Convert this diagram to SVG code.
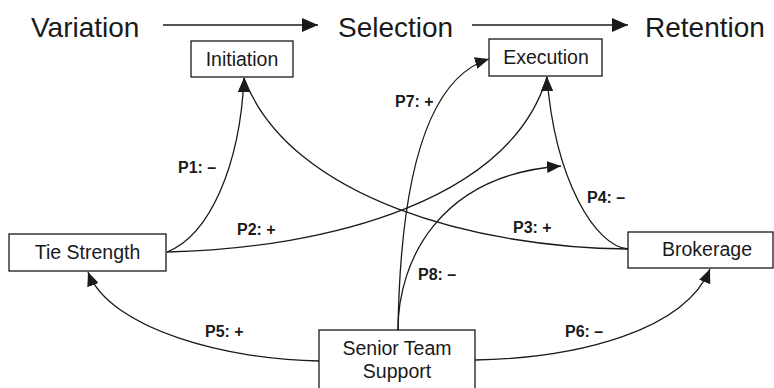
<svg xmlns="http://www.w3.org/2000/svg" width="774" height="388" viewBox="0 0 774 388">
<style>
.hd{font-family:"Liberation Sans",Arial,sans-serif;font-size:28px;fill:#1a1a1a}
.nt{font-family:"Liberation Sans",Arial,sans-serif;font-size:19.5px;fill:#1a1a1a;text-anchor:middle}
.lb{font-family:"Liberation Sans",Arial,sans-serif;font-size:16px;font-weight:bold;fill:#1a1a1a}
.box{fill:#fff;stroke:#1a1a1a;stroke-width:1.3}
.cn{fill:none;stroke:#1a1a1a;stroke-width:1.3}
</style>
<defs>
<marker id="ah" markerUnits="userSpaceOnUse" markerWidth="14" markerHeight="12" refX="14" refY="6" orient="auto"><path d="M0,0 L14,6 L0,12 z" fill="#1a1a1a"/></marker>
<marker id="up" markerUnits="userSpaceOnUse" markerWidth="14" markerHeight="12" refX="14" refY="6" orient="270"><path d="M0,0 L14,6 L0,12 z" fill="#1a1a1a"/></marker>
<marker id="big" markerUnits="userSpaceOnUse" markerWidth="16" markerHeight="14" refX="16" refY="7" orient="auto"><path d="M0,0 L16,7 L0,14 z" fill="#1a1a1a"/></marker>
</defs>
<g id="header">
<text class="hd" x="31" y="37">Variation</text>
<text class="hd" x="338" y="37">Selection</text>
<text class="hd" x="645" y="37">Retention</text>
<line class="cn" x1="163" y1="25" x2="318" y2="25" stroke-width="1.6" marker-end="url(#big)"/>
<line class="cn" x1="472" y1="25" x2="628" y2="25" stroke-width="1.6" marker-end="url(#big)"/>
</g>
<g id="connectors">
<path id="P1" class="cn" d="M167,252 C210,235 240,165 244,78" marker-end="url(#up)"/>
<path id="P3" class="cn" d="M628,249 C480,248 290,200 244,78" marker-end="url(#up)"/>
<path id="P2" class="cn" d="M167,252 C330,248 510,200 547,77" marker-end="url(#up)"/>
<path id="P4" class="cn" d="M628,249 C595,246 555,180 547,77" marker-end="url(#up)"/>
<path id="P5" class="cn" d="M319,361 C230,360 110,330 88,272" marker-end="url(#ah)"/>
<path id="P6" class="cn" d="M475,360 C580,358 685,330 710,269" marker-end="url(#ah)"/>
<path id="P7" class="cn" d="M398,330 C400,200 420,80 489,59" marker-end="url(#ah)"/>
<path id="P8" class="cn" d="M398,330 C398,260 440,175 561,166" marker-end="url(#ah)"/>
</g>
<g id="labels">
<text class="lb" x="178" y="173">P1: –</text>
<text class="lb" x="237" y="235">P2: +</text>
<text class="lb" x="513" y="233">P3: +</text>
<text class="lb" x="587" y="203">P4: –</text>
<text class="lb" x="205" y="337">P5: +</text>
<text class="lb" x="565" y="337">P6: –</text>
<text class="lb" x="395" y="107">P7: +</text>
<text class="lb" x="418" y="280">P8: –</text>
</g>
<g id="initiation">
<rect class="box" x="191" y="41" width="102" height="36"/>
<text class="nt" x="242" y="66">Initiation</text>
</g>
<g id="execution">
<rect class="box" x="489" y="39" width="113" height="37"/>
<text class="nt" x="546" y="64">Execution</text>
</g>
<g id="tie-strength">
<rect class="box" x="9" y="234" width="157" height="37"/>
<text class="nt" x="87.5" y="259">Tie Strength</text>
</g>
<g id="brokerage">
<rect class="box" x="628" y="232" width="145" height="36"/>
<text class="nt" x="707" y="256">Brokerage</text>
</g>
<g id="senior-team-support">
<rect class="box" x="319" y="330" width="156" height="70"/>
<text class="nt" x="397" y="355">Senior Team</text>
<text class="nt" x="397" y="378">Support</text>
</g>
</svg>
